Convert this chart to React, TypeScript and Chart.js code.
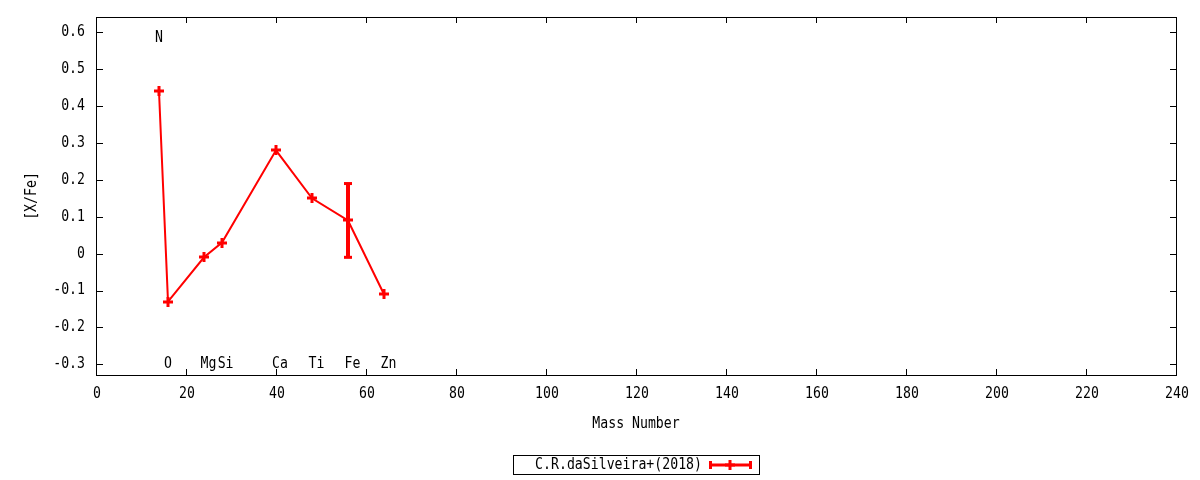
import React, { useEffect, useRef } from "react";
import { Chart, registerables } from "chart.js";

Chart.register(...registerables);

const masses = [14, 16, 24, 28, 40, 48, 56, 64];
const xfe = [0.44, -0.13, -0.01, 0.03, 0.28, 0.15, 0.09, -0.11];
const xfeErr = [0, 0, 0, 0, 0, 0, 0.1, 0];

const elementNames = ["N", "O", "Mg", "Si", "Ca", "Ti", "Fe", "Zn"];
const elementLabelX = [14, 16, 25, 28.8, 40.9, 49, 57, 65];
const elementLabelY = [0.585, -0.3, -0.3, -0.3, -0.3, -0.3, -0.3, -0.3];

const xTicks = [0, 20, 40, 60, 80, 100, 120, 140, 160, 180, 200, 220, 240];
const yTicks = [-0.3, -0.2, -0.1, 0, 0.1, 0.2, 0.3, 0.4, 0.5, 0.6];
const yTickLabels = ["-0.3", "-0.2", "-0.1", "0", "0.1", "0.2", "0.3", "0.4", "0.5", "0.6"];

const seriesLabel = "C.R.daSilveira+(2018)";
const xTitle = "Mass Number";
const yTitle = "[X/Fe]";

const RED = "#ff0000";
const FONT = "15px 'DejaVu Sans Mono'";
const SX = 0.88;

function txt(ctx: CanvasRenderingContext2D, s: string, x: number, y: number, align: "left" | "center" | "right") {
  ctx.save();
  ctx.font = FONT;
  ctx.fillStyle = "#000";
  ctx.textBaseline = "middle";
  ctx.textAlign = align;
  ctx.translate(x, y);
  ctx.scale(SX, 1);
  ctx.fillText(s, 0, 0);
  ctx.restore();
}

function plus(ctx: CanvasRenderingContext2D, x: number, y: number) {
  ctx.fillStyle = RED;
  ctx.fillRect(Math.round(x) - 5, Math.round(y) - 1.5, 10, 3);
  ctx.fillRect(Math.round(x) - 1.5, Math.round(y) - 5, 3, 10);
}

const gnuPlugin = {
  id: "gnu",
  afterDatasetsDraw(chart: any) {
    const ctx: CanvasRenderingContext2D = chart.ctx;
    const xs = chart.scales.x;
    const ys = chart.scales.y;
    ctx.save();
    for (let i = 0; i < masses.length; i++) {
      const e = xfeErr[i];
      if (!e) continue;
      const px = xs.getPixelForValue(masses[i]);
      const pHi = ys.getPixelForValue(xfe[i] + e);
      const pLo = ys.getPixelForValue(xfe[i] - e);
      ctx.fillStyle = RED;
      ctx.fillRect(px - 2, pHi, 4, pLo - pHi);
      ctx.fillRect(px - 4, pHi - 1.5, 8, 3);
      ctx.fillRect(px - 4, pLo - 1.5, 8, 3);
    }
    for (let i = 0; i < masses.length; i++) {
      plus(ctx, xs.getPixelForValue(masses[i]), ys.getPixelForValue(xfe[i]));
    }
    ctx.restore();
  },
  afterDraw(chart: any) {
    const ctx: CanvasRenderingContext2D = chart.ctx;
    const { left, right, top, bottom } = chart.chartArea;
    const xs = chart.scales.x;
    const ys = chart.scales.y;
    ctx.save();
    ctx.strokeStyle = "#000";
    ctx.lineWidth = 1;
    ctx.strokeRect(Math.round(left) + 0.5, Math.round(top) + 0.5, Math.round(right - left), Math.round(bottom - top));
    ctx.beginPath();
    yTicks.forEach((v) => {
      const py = Math.round(ys.getPixelForValue(v)) + 0.5;
      ctx.moveTo(left, py);
      ctx.lineTo(left + 7, py);
      ctx.moveTo(right, py);
      ctx.lineTo(right - 6, py);
    });
    xTicks.forEach((v) => {
      const px = Math.round(xs.getPixelForValue(v)) + 0.5;
      ctx.moveTo(px, bottom);
      ctx.lineTo(px, bottom - 6);
      ctx.moveTo(px, top);
      ctx.lineTo(px, top + 6);
    });
    ctx.stroke();
    yTicks.forEach((v, i) => {
      txt(ctx, yTickLabels[i], left - 11, ys.getPixelForValue(v), "right");
    });
    xTicks.forEach((v) => {
      txt(ctx, String(v), xs.getPixelForValue(v) + 1, bottom + 19, "center");
    });
    txt(ctx, xTitle, (left + right) / 2, bottom + 49, "center");
    ctx.save();
    ctx.translate(32, (top + bottom) / 2);
    ctx.rotate(-Math.PI / 2);
    txt(ctx, yTitle, 0, 0, "center");
    ctx.restore();
    elementNames.forEach((n, i) => {
      txt(ctx, n, xs.getPixelForValue(elementLabelX[i]), ys.getPixelForValue(elementLabelY[i]), "center");
    });
    ctx.strokeRect(513.5, 455.5, 246, 19);
    txt(ctx, seriesLabel, 702, 465, "right");
    ctx.fillStyle = RED;
    ctx.fillRect(710, 463.5, 41, 3);
    ctx.fillRect(709, 461, 3, 8);
    ctx.fillRect(749, 461, 3, 8);
    plus(ctx, 730, 465);
    ctx.restore();
  },
};

export default function App() {
  const ref = useRef<HTMLCanvasElement>(null);
  useEffect(() => {
    document.body.style.margin = "0";
    const chart = new Chart(ref.current!, {
      type: "line",
      data: {
        datasets: [
          {
            label: seriesLabel,
            data: masses.map((m, i) => ({ x: m, y: xfe[i] })),
            borderColor: RED,
            backgroundColor: RED,
            borderWidth: 2,
            tension: 0,
            pointRadius: 0,
          },
        ],
      },
      options: {
        animation: false,
        responsive: false,
        layout: { padding: { left: 96, right: 24, top: 17, bottom: 105 } },
        plugins: { legend: { display: false }, tooltip: { enabled: false } },
        scales: {
          x: { type: "linear", min: 0, max: 240, display: false },
          y: { type: "linear", min: -0.329, max: 0.6415, display: false },
        },
      },
      plugins: [gnuPlugin],
    });
    return () => chart.destroy();
  }, []);
  return (
    <div style={{ width: 1200, height: 480, background: "#fff" }}>
      <canvas ref={ref} width={1200} height={480} />
    </div>
  );
}
